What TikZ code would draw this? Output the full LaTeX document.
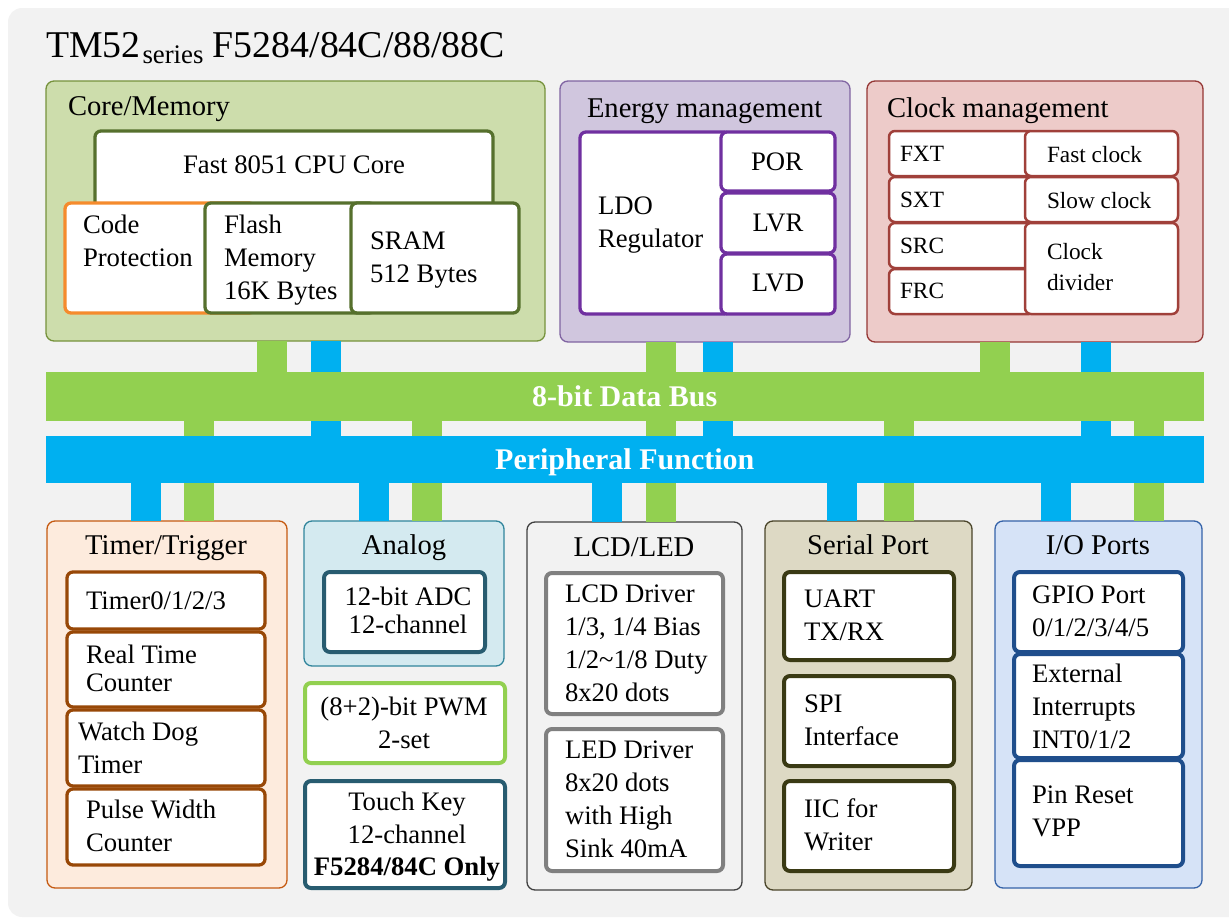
\documentclass[tikz,border=0pt]{standalone}
\usepackage{fontspec}
\setmainfont{Liberation Serif}
\definecolor{bggray}{HTML}{F2F2F2}
\definecolor{busgreen}{HTML}{92D050}
\definecolor{busblue}{HTML}{00B0F0}
\definecolor{corefill}{HTML}{CDDDAC}
\definecolor{coreedge}{HTML}{76923C}
\definecolor{corein}{HTML}{56702D}
\definecolor{codeedge}{HTML}{F58B2D}
\definecolor{enfill}{HTML}{D0C6DE}
\definecolor{enedge}{HTML}{8064A2}
\definecolor{enin}{HTML}{7030A0}
\definecolor{clfill}{HTML}{EDCBC9}
\definecolor{cledge}{HTML}{953735}
\definecolor{clin}{HTML}{A0403A}
\definecolor{tmfill}{HTML}{FDEBDD}
\definecolor{tmedge}{HTML}{C55A11}
\definecolor{tmin}{HTML}{984807}
\definecolor{anfill}{HTML}{D4EAF0}
\definecolor{anedge}{HTML}{31859C}
\definecolor{anin}{HTML}{285C70}
\definecolor{lcdedge}{HTML}{404040}
\definecolor{lcdin}{HTML}{808080}
\definecolor{sefill}{HTML}{DDD9C4}
\definecolor{seedge}{HTML}{4A452A}
\definecolor{sein}{HTML}{3A3A14}
\definecolor{iofill}{HTML}{D6E3F7}
\definecolor{ioedge}{HTML}{3563A9}
\definecolor{ioin}{HTML}{1F4E8C}
% block from corner (x1,y1) to corner (x2,y2)
\newcommand{\blk}[6]{\node[#1, minimum width=#5pt-#3pt, minimum height=#6pt-#4pt] (#2) at ({(#3+#5)/2},{(#4+#6)/2}) {};}
\begin{document}
\begin{tikzpicture}[x=1pt,y=-1pt,
    every node/.style={inner sep=0pt,outer sep=0pt,text depth=0pt},
    area/.style={rounded corners=8pt,line width=1.3pt},
    unit/.style={rounded corners=6pt,line width=3.3pt,fill=white},
    gbar/.style={draw=busgreen,line width=30pt},
    bbar/.style={draw=busblue,line width=30pt},
    lbl/.style={font=\fontsize{26.7}{33}\selectfont,align=left,anchor=west},
    lbltight/.style={font=\fontsize{26.7}{28}\selectfont,align=center},
    lblc/.style={font=\fontsize{26.7}{33}\selectfont,align=center},
    lblsmall/.style={font=\fontsize{23.3}{31}\selectfont,align=left,anchor=west},
    head/.style={font=\fontsize{28.6}{34}\selectfont},
    busbox/.style={text=white,font=\fontsize{30}{36}\selectfont\bfseries}]
    \useasboundingbox (0,0) rectangle (1229,918);
    \fill[bggray,rounded corners=14pt] (8,8) rectangle (1260,917);
    \node[anchor=base west,font=\fontsize{37.8}{40}\selectfont] (title) at (46,57)
        {TM52\kern2pt\raisebox{-6pt}{\fontsize{26.8}{28}\selectfont series} F5284/84C/88/88C};

    \blk{area,fill=corefill,draw=coreedge}{core}{46}{81}{545}{341}
    \blk{area,fill=enfill,draw=enedge}{energy}{560}{81}{850}{342}
    \blk{area,fill=clfill,draw=cledge}{clock}{867}{81}{1203}{342}
    \blk{area,fill=tmfill,draw=tmedge}{timer}{47}{521}{287}{888}
    \blk{area,fill=anfill,draw=anedge}{analog}{304}{521}{504}{666}
    \blk{area,fill=bggray,draw=lcdedge}{lcd}{527}{522}{742}{890}
    \blk{area,fill=sefill,draw=seedge}{serial}{765}{521}{972}{890}
    \blk{area,fill=iofill,draw=ioedge}{io}{995}{521}{1202}{888}

    \foreach \n/\x in {g1/272,g2/199,g3/427,g4/661,g5/899,g6/994.5,g7/1149,
        b1/326,b2/718,b3/1096,b4/145.5,b5/373.5,b6/607,b7/841.5,b8/1056}
        \coordinate (\n) at (\x,0);
    \blk{fill=busgreen}{dbtmp}{45.5}{372}{1204}{421}
    \blk{fill=busblue}{pftmp}{45.5}{436}{1204}{483}
    \draw[gbar] (core.south -| g1) -- (dbtmp.north -| g1);
    \draw[gbar] (energy.south -| g4) -- (lcd.north -| g4);
    \draw[gbar] (clock.south -| g6) -- (dbtmp.north -| g6);
    \draw[gbar] (dbtmp.south -| g2) -- (timer.north -| g2);
    \draw[gbar] (dbtmp.south -| g3) -- (analog.north -| g3);
    \draw[gbar] (dbtmp.south -| g5) -- (serial.north -| g5);
    \draw[gbar] (dbtmp.south -| g7) -- (io.north -| g7);
    \draw[bbar] (core.south -| b1) -- (pftmp.north -| b1);
    \draw[bbar] (energy.south -| b2) -- (pftmp.north -| b2);
    \draw[bbar] (clock.south -| b3) -- (pftmp.north -| b3);
    \draw[bbar] (pftmp.south -| b4) -- (timer.north -| b4);
    \draw[bbar] (pftmp.south -| b5) -- (analog.north -| b5);
    \draw[bbar] (pftmp.south -| b6) -- (lcd.north -| b6);
    \draw[bbar] (pftmp.south -| b7) -- (serial.north -| b7);
    \draw[bbar] (pftmp.south -| b8) -- (io.north -| b8);
    \node[busbox,fill=busgreen,minimum width=1158.5pt,minimum height=49pt] (db) at (dbtmp) {8-bit Data Bus};
    \node[busbox,fill=busblue,minimum width=1158.5pt,minimum height=47pt] (pf) at (pftmp) {Peripheral Function};

    \blk{unit,draw=corein}{cpu}{95}{131}{493}{215}
    \blk{unit,draw=codeedge}{codep}{65}{203}{255}{313}
    \blk{unit,draw=corein}{flash}{205}{203}{375}{313}
    \blk{unit,draw=corein}{sram}{351}{203}{519}{313}
    \blk{unit,draw=enin}{ldo}{580}{132}{730}{314}
    \blk{unit,draw=enin}{por}{721}{132}{835}{191}
    \blk{unit,draw=enin}{lvr}{721}{193}{835}{253}
    \blk{unit,draw=enin}{lvd}{721}{254}{835}{314}
    \blk{unit,draw=clin,line width=2.5pt}{fxt}{889}{131}{1035}{176}
    \blk{unit,draw=clin,line width=2.5pt}{sxt}{889}{177}{1035}{222}
    \blk{unit,draw=clin,line width=2.5pt}{src}{889}{223}{1035}{268}
    \blk{unit,draw=clin,line width=2.5pt}{frc}{889}{269}{1035}{314}
    \blk{unit,draw=clin,line width=2.5pt}{fastclk}{1025}{131}{1178}{176}
    \blk{unit,draw=clin,line width=2.5pt}{slowclk}{1025}{177}{1178}{222}
    \blk{unit,draw=clin,line width=2.5pt}{clkdiv}{1025}{223}{1178}{314}
    \blk{unit,draw=tmin}{tmr}{67}{572}{265}{629}
    \blk{unit,draw=tmin}{rtc}{67}{632}{265}{707}
    \blk{unit,draw=tmin}{wdt}{67}{710}{265}{786}
    \blk{unit,draw=tmin}{pwc}{67}{789}{265}{865}
    \blk{unit,draw=anin,line width=4pt}{adc}{324}{572}{485}{652}
    \blk{unit,draw=busgreen,line width=4pt}{pwm}{305}{683}{505}{763}
    \blk{unit,draw=anin,line width=4pt}{touch}{305}{781}{505}{888}
    \blk{unit,draw=lcdin,line width=4pt}{lcddrv}{546}{573}{723}{714}
    \blk{unit,draw=lcdin,line width=4pt}{leddrv}{546}{729}{723}{871}
    \blk{unit,draw=sein,line width=4pt}{uart}{784}{572}{954}{660}
    \blk{unit,draw=sein,line width=4pt}{spi}{784}{676}{954}{766}
    \blk{unit,draw=sein,line width=4pt}{iic}{784}{781}{954}{871}
    \blk{unit,draw=ioin,line width=4pt}{gpio}{1014}{572}{1183}{652}
    \blk{unit,draw=ioin,line width=4pt}{ext}{1014}{654}{1183}{758}
    \blk{unit,draw=ioin,line width=4pt}{pin}{1014}{760}{1183}{866}

    \node[head,anchor=west] (h-core) at (68,106) {Core/Memory};
    \node[head,anchor=west] (h-energy) at (587,108) {Energy management};
    \node[head,anchor=west] (h-clock) at (887,108) {Clock management};
    \node[head] (h-timer) at (166,545) {Timer/Trigger};
    \node[head] (h-analog) at (404,545) {Analog};
    \node[head] (h-lcd) at (634,547) {LCD/LED};
    \node[head] (h-serial) at (868,545) {Serial Port};
    \node[head] (h-io) at (1098,545) {I/O Ports};

    \node[lblc] (t-cpu) at (294,165) {Fast 8051 CPU Core};
    \node[lbl] (t-codep) at (83,241) {Code\\Protection};
    \node[lbl] (t-flash) at (224,257) {Flash\\Memory\\16K Bytes};
    \node[lbl] (t-sram) at (370,257) {SRAM\\512 Bytes};
    \node[lbl] (t-ldo) at (598,222) {LDO\\Regulator};
    \node[lblc] (t-por) at (777,162) {POR};
    \node[lblc] (t-lvr) at (778,223) {LVR};
    \node[lblc] (t-lvd) at (778,283) {LVD};
    \node[lblsmall] (t-fxt) at (900,154) {FXT};
    \node[lblsmall] (t-sxt) at (900,200) {SXT};
    \node[lblsmall] (t-src) at (900,246) {SRC};
    \node[lblsmall] (t-frc) at (900,291) {FRC};
    \node[lblsmall] (t-fast) at (1047,154) {Fast clock};
    \node[lblsmall] (t-slow) at (1047,200) {Slow clock};
    \node[lblsmall] (t-div) at (1047,267) {Clock\\divider};

    \node[lbl] (t-tmr) at (86,601) {Timer0/1/2/3};
    \node[lbl,font=\fontsize{26.7}{28.5}\selectfont] (t-rtc) at (86,668) {Real Time\\Counter};
    \node[lbl] (t-wdt) at (78,748) {Watch Dog\\Timer};
    \node[lbl] (t-pwc) at (86,826) {Pulse Width\\Counter};
    \node[lbltight] (t-adc) at (408,610) {12-bit ADC\\12-channel};
    \node[lblc] (t-pwm) at (404,723) {(8+2)-bit PWM\\2-set};
    \node[lblc,font=\fontsize{26.7}{32.5}\selectfont] (t-touch) at (407,834) {Touch Key\\12-channel\\\textbf{F5284/84C Only}};
    \node[lbl] (t-lcddrv) at (565,643) {LCD Driver\\1/3, 1/4 Bias\\1/2\textasciitilde1/8 Duty\\8x20 dots};
    \node[lbl] (t-leddrv) at (565,799) {LED Driver\\8x20 dots\\with High\\Sink 40mA};
    \node[lbl] (t-uart) at (804,615) {UART\\TX/RX};
    \node[lbl] (t-spi) at (804,720) {SPI\\Interface};
    \node[lbl] (t-iic) at (804,825) {IIC for\\Writer};
    \node[lbl] (t-gpio) at (1032,611) {GPIO Port\\0/1/2/3/4/5};
    \node[lbl] (t-ext) at (1032,706) {External\\Interrupts\\INT0/1/2};
    \node[lbl] (t-pin) at (1032,811) {Pin Reset\\VPP};
\end{tikzpicture}
\end{document}
